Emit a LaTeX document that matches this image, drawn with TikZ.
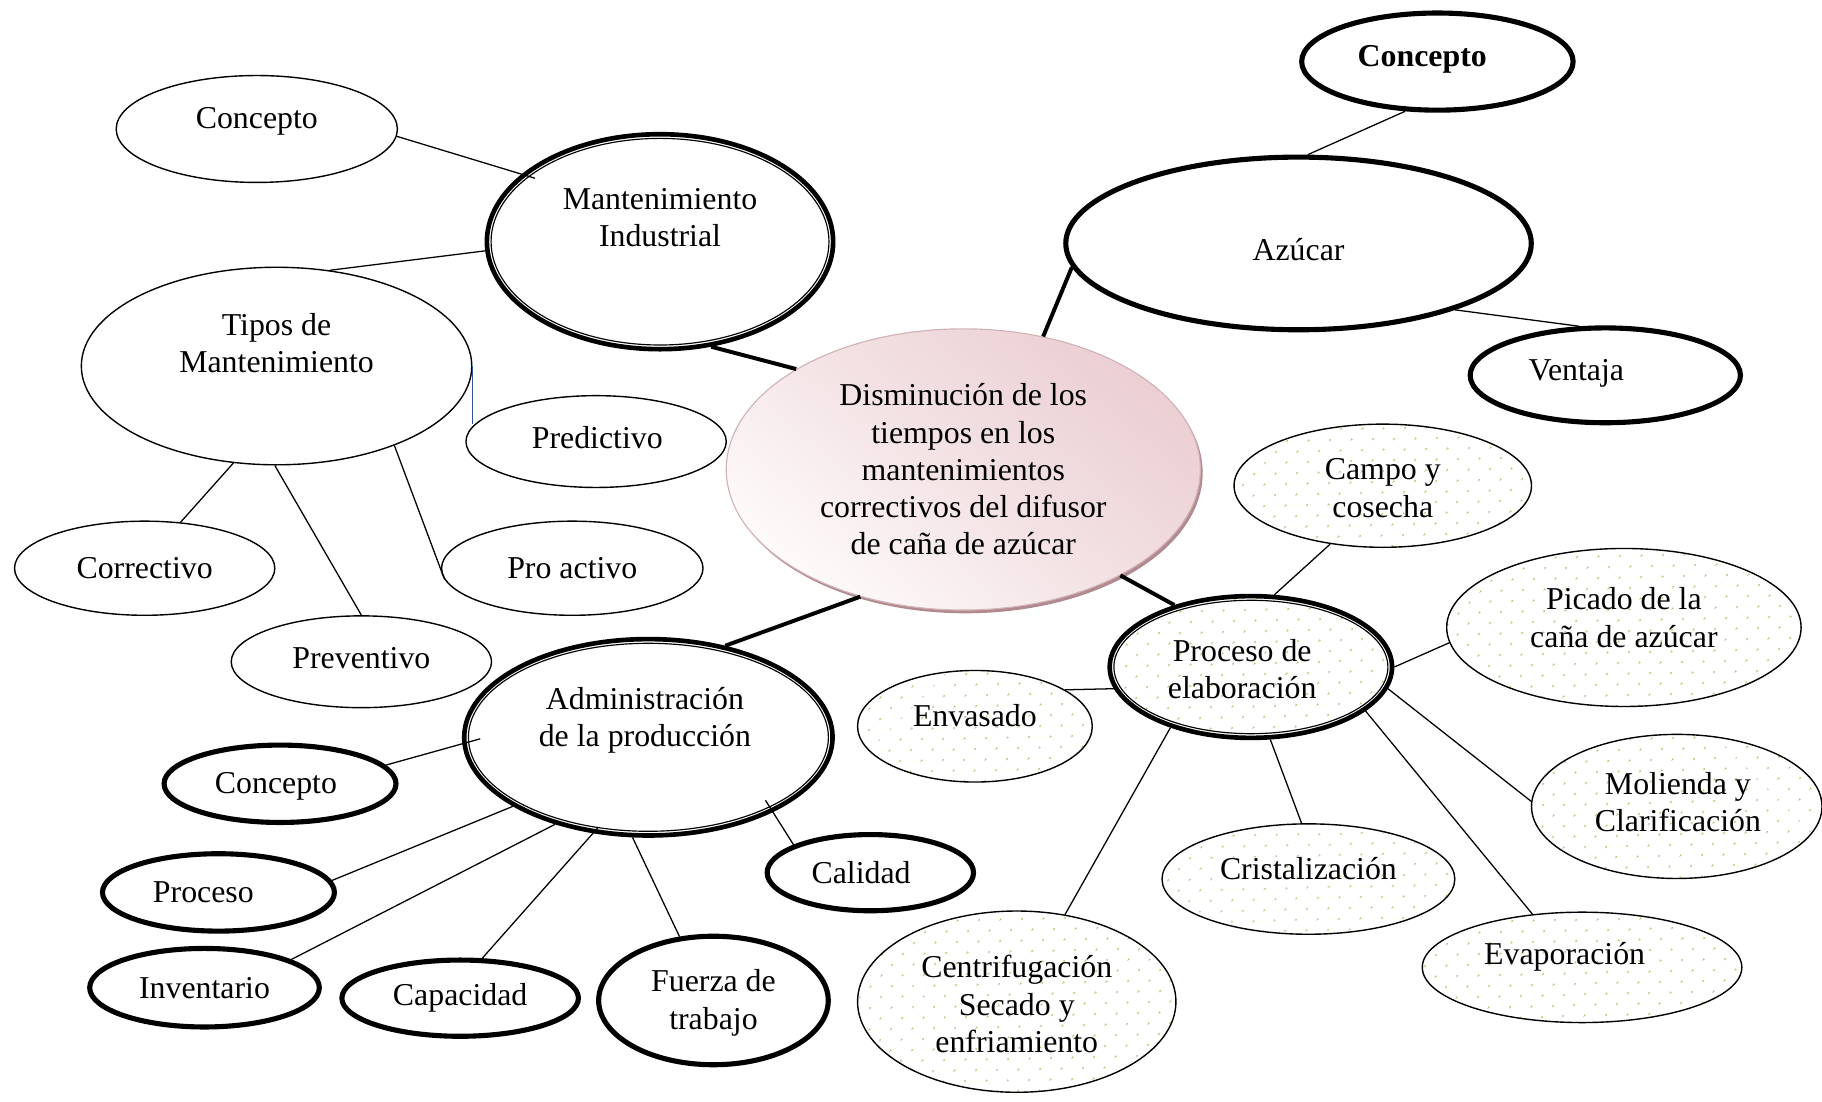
\documentclass[tikz,border=0pt]{standalone}
\usepackage{fontspec}
\setmainfont{Liberation Serif}
\usetikzlibrary{shapes.geometric,patterns.meta,shadows}
\definecolor{dotg}{HTML}{AECB7E}
\definecolor{cpink}{HTML}{EBCFD3}
\definecolor{cmid}{HTML}{F3E2E4}
\definecolor{clight}{HTML}{FEFAFA}
\definecolor{cshadow}{HTML}{B08A8F}
\definecolor{cborder}{HTML}{D2B4B8}
\definecolor{bluel}{HTML}{2F5597}
\begin{document}
\begin{tikzpicture}[x=0.5pt,y=-0.5pt,
  every node/.style={font=\fontsize{13.7pt}{16pt}\selectfont},
  ell/.style={ellipse, inner sep=0pt},
  thinell/.style={ell, draw, line width=0.6pt},
  thickell/.style={ell, draw, line width=2.2pt},
  dblell/.style={ell, draw, line width=2pt},
  innerline/.style={line width=0.5pt},
  dotfill/.style={pattern={Dots[distance=6.5pt, angle=45, radius=0.5pt]}, pattern color=dotg},
  lbl/.style={align=center, inner sep=0pt},
  thinc/.style={line width=0.55pt},
  thickc/.style={line width=1.7pt},
  bluec/.style={line width=0.55pt, draw=bluel},
  cenell/.style={ellipse, inner sep=0pt, align=center, draw=cborder, line width=0.5pt,
    top color=cpink, bottom color=clight, middle color=cmid, shading angle=-40,
    drop shadow={opacity=1, fill=cshadow, shadow xshift=1pt, shadow yshift=-1.4pt}}
]
\fill[white] (0,0) rectangle (1568,948);
\useasboundingbox (0,0) rectangle (1568,948);

% central
\node[cenell, minimum width=204pt, minimum height=121pt] (cen) at (829,404)
  {Disminución de los\\tiempos en los\\mantenimientos\\correctivos del difusor\\de caña de azúcar};

% Mantenimiento industrial branch
\node[thinell, minimum width=121pt, minimum height=46pt,
  label={[lbl,name=ctl-t,yshift=3.5pt]center:Concepto}] (ctl) at (221,111) {};
\node[dblell, minimum width=149pt, minimum height=92.5pt,
  label={[lbl,name=mi-t,yshift=10.5pt]center:{Mantenimiento\\Industrial}}] (mi) at (568,208) {};
\draw[innerline] (mi.center) ellipse [x radius=72.7pt, y radius=44.45pt];
\node[thinell, minimum width=168pt, minimum height=85pt,
  label={[lbl,name=tip-t,yshift=9.75pt]center:{Tipos de\\Mantenimiento}}] (tip) at (238,315) {};
\node[thinell, minimum width=112pt, minimum height=39.5pt,
  label={[lbl,name=pred-t,xshift=0.5pt,yshift=1.75pt]center:Predictivo}] (pred) at (513,380) {};
\node[thinell, minimum width=112pt, minimum height=40.5pt,
  label={[lbl,name=cor-t]center:Correctivo}] (cor) at (124.5,489) {};
\node[thinell, minimum width=112.5pt, minimum height=40.5pt,
  label={[lbl,name=pro-t]center:Pro activo}] (pro) at (492.5,489) {};
\node[thinell, minimum width=112pt, minimum height=39.5pt,
  label={[lbl,name=prev-t,yshift=1.75pt]center:Preventivo}] (prev) at (311,569.5) {};

% Administracion branch
\node[dblell, minimum width=158.5pt, minimum height=84.5pt,
  label={[lbl,name=adm-t,xshift=-1.5pt,yshift=7.25pt]center:{Administración\\de la producción}}] (adm) at (558,634.5) {};
\draw[innerline] (adm.center) ellipse [x radius=77.45pt, y radius=40.45pt];
\node[thickell, minimum width=99.8pt, minimum height=33.3pt,
  label={[lbl,name=conL-t,xshift=-1.75pt,yshift=-1pt]center:Concepto}] (conL) at (241,674.5) {};
\node[thickell, minimum width=99.8pt, minimum height=33.3pt,
  label={[lbl,name=proc-t,xshift=-6.5pt]center:Proceso}] (proc) at (188,768) {};
\node[thickell, minimum width=98.8pt, minimum height=33.8pt,
  label={[lbl,name=inv-t]center:Inventario}] (inv) at (176,850) {};
\node[thickell, minimum width=101.8pt, minimum height=32.8pt,
  label={[lbl,name=cap-t]center:Capacidad}] (cap) at (396,859) {};
\node[thickell, minimum width=98.8pt, minimum height=55.3pt,
  label={[lbl,name=fue-t,yshift=-1pt]center:{Fuerza de\\trabajo}}] (fue) at (614,861) {};
\node[thickell, minimum width=88.8pt, minimum height=32.8pt,
  label={[lbl,name=cal-t,xshift=-4pt]center:Calidad}] (cal) at (749,751) {};

% Azucar branch
\node[thickell, minimum width=200.3pt, minimum height=74.3pt,
  label={[lbl,name=az-t,yshift=-2.75pt]center:Azúcar}] (az) at (1117.5,209.5) {};
\node[thickell, minimum width=116.8pt, minimum height=41.8pt,
  label={[lbl,name=conR-t,xshift=-6.5pt,yshift=1pt]center:\textbf{Concepto}}] (conR) at (1237,53) {};
\node[thickell, minimum width=116.3pt, minimum height=40.8pt,
  label={[lbl,name=ven-t,xshift=-12.5pt,yshift=1pt]center:Ventaja}] (ven) at (1381.5,323) {};

% Proceso de elaboracion branch
\node[thinell, dotfill, minimum width=128pt, minimum height=53pt,
  label={[lbl,name=campo-t,yshift=-1pt]center:{Campo y\\cosecha}}] (campo) at (1190,418) {};
\node[thinell, dotfill, minimum width=152.5pt, minimum height=68pt,
  label={[lbl,name=pic-t,yshift=4.25pt]center:{Picado de la\\caña de azúcar}}] (pic) at (1397.5,540) {};
\node[dblell, dotfill, minimum width=121.5pt, minimum height=61pt,
  label={[lbl,name=pel-t,xshift=-3.75pt,yshift=-1pt]center:{Proceso de\\elaboración}}] (pel) at (1076.5,574) {};
\draw[innerline] (pel.center) ellipse [x radius=58.95pt, y radius=28.7pt];
\node[thinell, dotfill, minimum width=101pt, minimum height=48pt,
  label={[lbl,name=env-t,yshift=4.5pt]center:Envasado}] (env) at (839,625) {};
\node[thinell, dotfill, minimum width=125pt, minimum height=62pt,
  label={[lbl,name=mol-t,xshift=0.5pt,yshift=2pt]center:{Molienda y\\Clarificación}}] (mol) at (1443,694) {};
\node[thinell, dotfill, minimum width=126pt, minimum height=47.5pt,
  label={[lbl,name=cri-t,yshift=4.5pt]center:Cristalización}] (cri) at (1126,756.5) {};
\node[thinell, dotfill, minimum width=137.5pt, minimum height=47.5pt,
  label={[lbl,name=eva-t,xshift=-7.5pt,yshift=4.75pt]center:Evaporación}] (eva) at (1361.5,832.5) {};
\node[thinell, dotfill, minimum width=137pt, minimum height=78pt,
  label={[lbl,name=cfg-t,yshift=-1pt]center:{Centrifugación\\Secado y\\enfriamiento}}] (cfg) at (875,862) {};

% connectors
\draw[thinc, shorten >=-6pt] (ctl.-3) -- (mi.154);
\draw[thinc] (mi.183) -- (tip.61);
\draw[thickc] (mi.-64) -- (cen.149);
\draw[bluec] (tip.east) -- (tip.east |- pred.172);
\draw[thinc] (tip.246) -- (cor.52);
\draw[thinc] (tip.269) -- (prev.north);
\draw[thinc] (tip.-34) -- (pro.185);
\draw[thickc] (cen.59) -- (az.186);
\draw[thinc] (az.84) -- (conR.237);
\draw[thinc] (az.-23) -- (ven.118);
\draw[thickc] (cen.-34) -- (pel.141);
\draw[thickc] (cen.231) -- (adm.50);
\draw[thinc] (pel.72) -- (campo.228);
\draw[thinc] (pel.189) -- (env.22);
\draw[thinc] (pel.east) -- (pic.185);
\draw[thinc] (pel.-9) -- (mol.178);
\draw[thinc] (pel.-21) -- (eva.133);
\draw[thinc] (pel.-75) -- (cri.97);
\draw[thinc] (pel.217) -- (cfg.61);
\draw[thinc, shorten <=-8pt] (adm.182) -- (conL.10);
\draw[thinc] (adm.207) -- (proc.6);
\draw[thinc] (adm.223) -- (inv.18);
\draw[thinc, shorten <=-3pt] (adm.240) -- (cap.61);
\draw[thinc] (adm.261) -- (fue.118);
\draw[thinc, shorten <=-6pt, shorten >=-2pt] (adm.-31) -- (cal.160);
\end{tikzpicture}
\end{document}
